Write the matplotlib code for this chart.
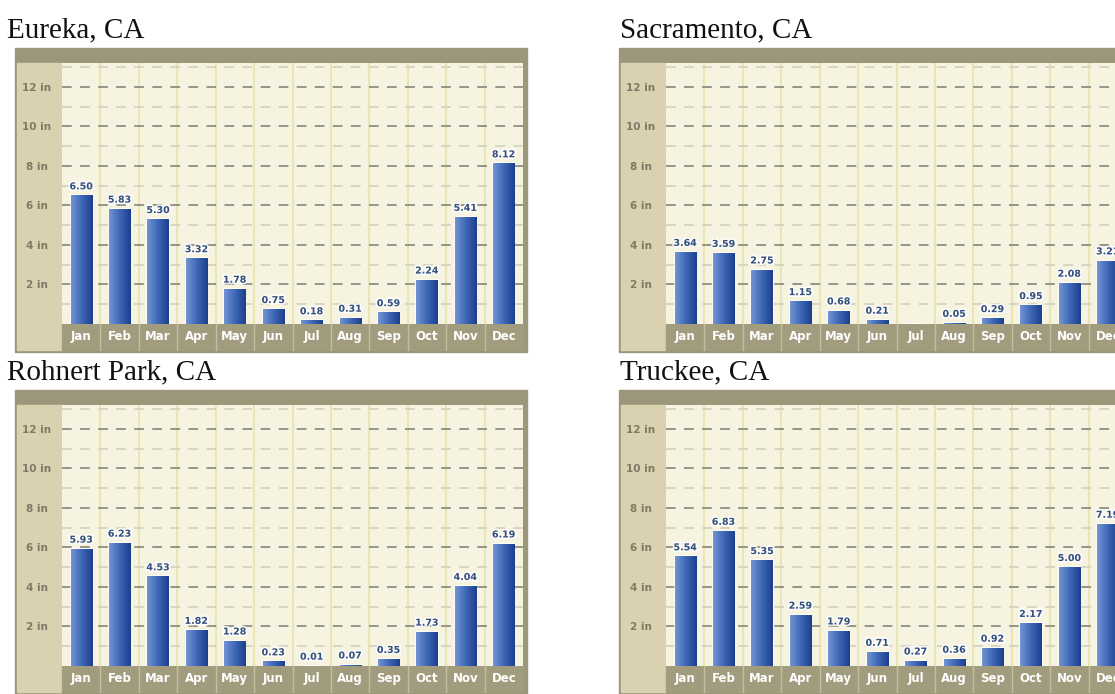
import numpy as np
import matplotlib
matplotlib.use('Agg')
import matplotlib.pyplot as plt
from matplotlib.patches import Rectangle
from matplotlib.colors import LinearSegmentedColormap
import matplotlib.patheffects as pe

plt.rcParams['lines.scale_dashes'] = False

# ---------------- data ----------------
months = ['Jan', 'Feb', 'Mar', 'Apr', 'May', 'Jun', 'Jul', 'Aug', 'Sep', 'Oct', 'Nov', 'Dec']
eureka = [6.50, 5.83, 5.30, 3.32, 1.78, 0.75, 0.18, 0.31, 0.59, 2.24, 5.41, 8.12]
sacramento = [3.64, 3.59, 2.75, 1.15, 0.68, 0.21, 0.00, 0.05, 0.29, 0.95, 2.08, 3.21]
rohnert_park = [5.93, 6.23, 4.53, 1.82, 1.28, 0.23, 0.01, 0.07, 0.35, 1.73, 4.04, 6.19]
truckee = [5.54, 6.83, 5.35, 2.59, 1.79, 0.71, 0.27, 0.36, 0.92, 2.17, 5.00, 7.19]
titles = ['Eureka, CA', 'Sacramento, CA', 'Rohnert Park, CA', 'Truckee, CA']
y_ticks = [2, 4, 6, 8, 10, 12]
y_tick_labels = ['2 in', '4 in', '6 in', '8 in', '10 in', '12 in']

# ---------------- style ----------------
W, H = 1115, 694
OLIVE = '#9c977a'
BAND = '#a29c7e'
BEIGE = '#d9d1af'
PLOT_BG = '#f6f4e0'
VSEP = '#e9e6b6'
MAJOR = '#8e8d82'
MINOR = '#d0cebb'
LABEL_BLUE = '#34507e'
bar_cmap = LinearSegmentedColormap.from_list('bar', ['#7394d3', '#3d67b7', '#1b3f8c'])

fig = plt.figure(figsize=(W / 100, H / 100), dpi=100)
fig.patch.set_facecolor('white')
bg = fig.add_axes([0, 0, 1, 1])
bg.set_xlim(0, W)
bg.set_ylim(H, 0)
bg.axis('off')


def add_ax(x0, y0, x1, y1):
    return fig.add_axes([x0 / W, 1 - y1 / H, (x1 - x0) / W, (y1 - y0) / H])


panels = [
    (titles[0], eureka, 0, 0, 7),
    (titles[1], sacramento, 604, 0, 620),
    (titles[2], rohnert_park, 0, 342, 7),
    (titles[3], truckee, 604, 342, 620),
]

grad = np.linspace(0, 1, 64).reshape(1, -1)

for title, vals, dx, dy, tx in panels:
    bg.text(tx, 37 + dy, title, fontsize=21, family='Liberation Serif',
            va='baseline', ha='left', color='#111111')
    # frame / header band
    bg.add_patch(Rectangle((15 + dx, 48 + dy), 512, 304, color=OLIVE, zorder=1))
    # y-axis column
    bg.add_patch(Rectangle((17 + dx, 63 + dy), 45, 287, color=BEIGE, zorder=2))
    # month band
    bg.add_patch(Rectangle((62 + dx, 324 + dy), 461, 26, color=BAND, zorder=2))

    ax = add_ax(62 + dx, 63 + dy, 523 + dx, 324 + dy)
    ax.set_facecolor(PLOT_BG)
    x = np.arange(len(months))

    # vertical column separators
    for k in range(1, 12):
        ax.axvline(k - 0.5, color=VSEP, lw=1.5, zorder=0.5)
        ax.axvline(k - 0.5, ymin=-0.1, ymax=0, color='#c4bea2', lw=1,
                   clip_on=False, zorder=5)
    # horizontal dashed grid
    for yv in range(1, 14):
        if yv % 2 == 0:
            ax.axhline(yv, color=MAJOR, lw=1.3, dashes=(7, 6), zorder=1)
        else:
            ax.axhline(yv, color=MINOR, lw=1.1, dashes=(7, 6), zorder=1)

    bars = ax.bar(x, vals, width=0.55, facecolor='none',
                  edgecolor=(1, 1, 1, 0.7), lw=1.5, zorder=2)
    for b, v in zip(bars, vals):
        if v <= 0:
            continue
        x0 = b.get_x()
        im = ax.imshow(grad, extent=[x0, x0 + b.get_width(), 0, v],
                       aspect='auto', cmap=bar_cmap, zorder=3,
                       interpolation='bilinear')
        im.set_clip_path(b)
        ax.annotate(f'{v:.2f}', (b.get_x() + b.get_width() / 2, v),
                    xytext=(0, 3), textcoords='offset points',
                    ha='center', va='bottom', fontsize=6.8, fontweight='bold',
                    color=LABEL_BLUE, zorder=4,
                    path_effects=[pe.withStroke(linewidth=2.5,
                                                foreground=(1, 1, 1, 0.8))])

    ax.set_xlim(-0.5, 11.5)
    ax.set_ylim(0, 13.2)
    ax.set_xticks(x)
    ax.set_xticklabels(months, color='white', fontsize=8.5, fontweight='bold')
    ax.set_yticks(y_ticks)
    ax.set_yticklabels(y_tick_labels, color='#7d7a66', fontsize=7.5,
                       fontweight='bold', ha='center')
    ax.tick_params(axis='x', length=0, pad=4)
    ax.tick_params(axis='y', length=0, pad=18)
    for s in ax.spines.values():
        s.set_visible(False)

fig.savefig('out.png', dpi=100)
